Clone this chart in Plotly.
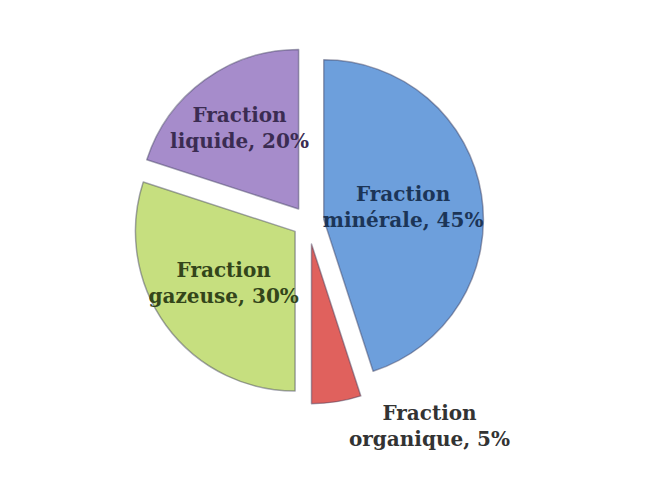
import plotly.graph_objects as go

labels = ["Fraction<br>minérale", "Fraction<br>organique", "Fraction<br>gazeuse", "Fraction<br>liquide"]
values = [45, 5, 30, 20]
colors = ["#6d9fdc", "#e0615d", "#c6df7f", "#a68ccb"]
text_colors = ["#1c3557", "#333333", "#33451a", "#3b2c52"]
pulls = [0.1, 0.14, 0.1, 0.1]
positions = ["inside", "outside", "inside", "inside"]

fig = go.Figure(go.Pie(
    labels=labels,
    values=values,
    sort=False,
    direction="clockwise",
    rotation=0,
    pull=pulls,
    marker=dict(colors=colors, line=dict(color="rgba(60,60,90,0.45)", width=1.5)),
    texttemplate="%{label}, %{value}%",
    textposition=positions,
    insidetextorientation="horizontal",
    textfont=dict(family="DejaVu Serif", size=20, color=text_colors, weight="bold"),
    outsidetextfont=dict(family="DejaVu Serif", size=20, color="#333333", weight="bold"),
    showlegend=False,
    domain=dict(x=[0, 1], y=[0.0, 1]),
))

fig.update_layout(
    width=646, height=501,
    margin=dict(l=0, r=0, t=0, b=0),
    paper_bgcolor="white",
    plot_bgcolor="white",
    uniformtext=dict(minsize=20, mode="show"),
)

fig.write_html("out.html")
